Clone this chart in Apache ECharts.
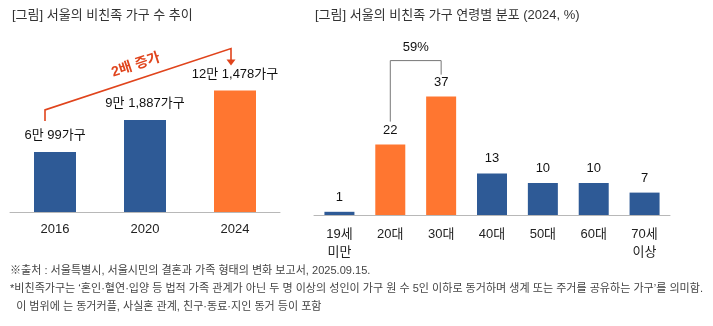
<!DOCTYPE html>
<html><head><meta charset="utf-8">
<script src="https://cdn.jsdelivr.net/npm/echarts@6/dist/echarts.min.js"></script>
<style>html,body{margin:0;padding:0;background:#fff}#c{width:713px;height:326px}</style>
</head><body><div id="c"></div>
<script>
const yearCats = ['2016', '2020', '2024'];
const householdValues = [60099, 91887, 121478];
const householdLabels = ['6만 99가구', '9만 1,887가구', '12만 1,478가구'];
const ageCats = ['19세\n미만', '20대', '30대', '40대', '50대', '60대', '70세\n이상'];
const ageValues = [1, 22, 37, 13, 10, 10, 7];
const highlightLeft = [false, false, true];
const highlightRight = [false, true, true, false, false, false, false];
const titleLeft = '[그림] 서울의 비친족 가구 수 추이';
const titleRight = '[그림] 서울의 비친족 가구 연령별 분포 (2024, %)';
const growthText = '2배 증가';
const sumText = '59%';
const notes = [
  '※출처 : 서울특별시, 서울시민의 결혼과 가족 형태의 변화 보고서, 2025.09.15.',
  '*비친족가구는 ‘혼인·혈연·입양 등 법적 가족 관계가 아닌 두 명 이상의 성인이 가구 원 수 5인 이하로 동거하며 생계 또는 주거를 공유하는 가구’를 의미함.',
  '  이 범위에 는 동거커플, 사실혼 관계, 친구·동료·지인 동거 등이 포함'
];

const BLUE = '#2e5a96', ORANGE = '#ff7630', RED = '#e0441c';
const FONT = '"Liberation Sans", "Noto Sans CJK KR", sans-serif';
const chart = echarts.init(document.getElementById('c'), null, {renderer: 'canvas'});

const option = {
  animation: false,
  textStyle: {fontFamily: FONT},
  grid: [
    {left: 10, right: 433, top: 62, bottom: 326 - 212},
    {left: 314, right: 43, top: 55, bottom: 326 - 215}
  ],
  xAxis: [
    {gridIndex: 0, type: 'category', data: yearCats,
     axisLine: {lineStyle: {color: '#b8b8b8', width: 1}}, axisTick: {show: false},
     axisLabel: {color: '#222', fontSize: 13, margin: 11, fontFamily: FONT}},
    {gridIndex: 1, type: 'category', data: ageCats,
     axisLine: {lineStyle: {color: '#b8b8b8', width: 1}}, axisTick: {show: false},
     axisLabel: {color: '#222', fontSize: 13, margin: 10, lineHeight: 18, fontFamily: FONT}}
  ],
  yAxis: [
    {gridIndex: 0, type: 'value', min: 0, max: 150000, show: false, splitLine: {show: false}},
    {gridIndex: 1, type: 'value', min: 0, max: 50, show: false, splitLine: {show: false}}
  ],
  series: [
    {type: 'bar', xAxisIndex: 0, yAxisIndex: 0, barWidth: 42,
     data: householdValues.map((v, i) => ({value: v, itemStyle: {color: highlightLeft[i] ? ORANGE : BLUE}})),
     label: {show: true, position: 'top', distance: 10, color: '#111', fontSize: 13, fontFamily: FONT,
             formatter: p => householdLabels[p.dataIndex]}},
    {type: 'bar', xAxisIndex: 1, yAxisIndex: 1, barWidth: 30,
     data: ageValues.map((v, i) => ({value: v, itemStyle: {color: highlightRight[i] ? ORANGE : BLUE}})),
     label: {show: true, position: 'top', distance: 8, color: '#111', fontSize: 13, fontFamily: FONT}}
  ],
  graphic: []
};
chart.setOption(option);

const p2016 = chart.convertToPixel({xAxisIndex: 0, yAxisIndex: 0}, [0, householdValues[0]]);
const p2024 = chart.convertToPixel({xAxisIndex: 0, yAxisIndex: 0}, [2, householdValues[2]]);
const p20 = chart.convertToPixel({xAxisIndex: 1, yAxisIndex: 1}, [1, ageValues[1]]);
const p30 = chart.convertToPixel({xAxisIndex: 1, yAxisIndex: 1}, [2, ageValues[2]]);

const lx = p2016[0] - 10, ly0 = p2016[1] - 31, ly1 = p2016[1] - 42;
const rx = p2024[0] - 4, ry1 = p2024[1] - 42, ry0 = p2024[1] - 30;
const ang = Math.atan2(ly1 - ry1, rx - lx);
const midX = (lx + rx) / 2, midY = (ly1 + ry1) / 2;

const bTop = p30[1] - 36;
const graphics = [
  {type: 'text', left: 12, top: 9, style: {text: titleLeft, fill: '#333', font: '13px ' + FONT}},
  {type: 'text', left: 315, top: 9, style: {text: titleRight, fill: '#333', font: '13px ' + FONT}},
  {type: 'polyline', shape: {points: [[lx, ly0], [lx, ly1], [rx, ry1], [rx, ry0]]},
   style: {stroke: RED, lineWidth: 1.6, fill: null}},
  {type: 'polygon', shape: {points: [[rx - 4.5, ry0 - 1], [rx + 4.5, ry0 - 1], [rx, ry0 + 5]]},
   style: {fill: RED}},
  {type: 'text', x: midX - 2, y: midY - 14, rotation: ang, originX: 0, originY: 0,
   style: {text: growthText, fill: RED, font: 'bold 14px ' + FONT, align: 'center', verticalAlign: 'middle'}},
  {type: 'polyline', shape: {points: [[p20[0], p20[1] - 23], [p20[0], bTop], [p30[0], bTop], [p30[0], p30[1] - 22]]},
   style: {stroke: '#777', lineWidth: 1, fill: null}},
  {type: 'text', x: (p20[0] + p30[0]) / 2, y: bTop - 13,
   style: {text: sumText, fill: '#111', font: '13px ' + FONT, align: 'center', verticalAlign: 'middle'}}
];
const noteFont = '11.5px ' + FONT;
const mctx = document.createElement('canvas').getContext('2d');
mctx.font = noteFont;
const noteScale = 693 / mctx.measureText(notes[1]).width;
const noteY = [271, 289, 307];
notes.forEach((t, i) => {
  graphics.push({type: 'text', x: 10, y: noteY[i], scaleX: noteScale, originX: 0,
    style: {text: t, fill: '#444', font: noteFont, verticalAlign: 'middle'}});
});
chart.setOption({graphic: graphics});
</script></body></html>
